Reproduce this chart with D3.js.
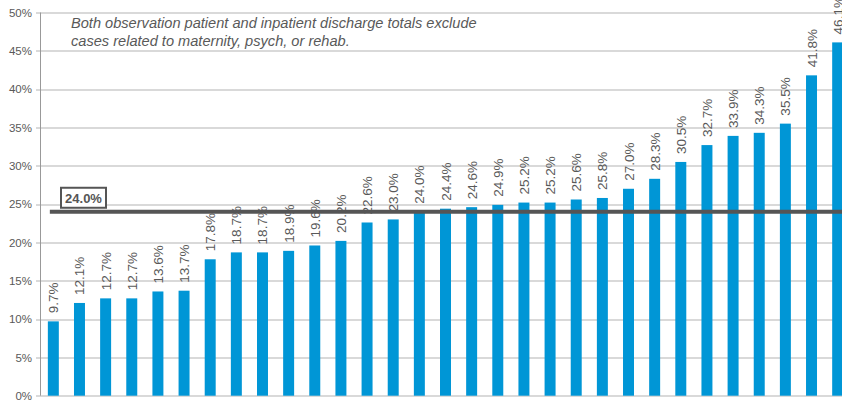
<!DOCTYPE html>
<html>
<head>
<meta charset="utf-8">
<script src="https://cdn.jsdelivr.net/npm/d3@7"></script>
<style>
  body { margin: 0; background: #fff; }
  svg { display: block; font-family: "Liberation Sans", Arial, sans-serif; }
</style>
</head>
<body>
<div class="chart"></div>
<script>
// values (share of discharges, %)
var values = [9.7, 12.1, 12.7, 12.7, 13.6, 13.7, 17.8, 18.7, 18.7, 18.9, 19.6, 20.2,
  22.6, 23.0, 24.0, 24.4, 24.6, 24.9, 25.2, 25.2, 25.6, 25.8, 27.0, 28.3, 30.5,
  32.7, 33.9, 34.3, 35.5, 41.8, 46.1];
var categories = values.map(function(d, i) { return "h" + (i + 1); });
var yTicks = [0, 5, 10, 15, 20, 25, 30, 35, 40, 45, 50];
var average = 24.0;
var note = ["Both observation patient and inpatient discharge totals exclude",
  "cases related to maternity, psych, or rehab."];

var svgWidth = 842;
var svgHeight = 402;

var margin = { top: 12.5, right: -9, bottom: 6.3, left: 40 };
var width = svgWidth - margin.left - margin.right;
var height = svgHeight - margin.top - margin.bottom;

var svg = d3.select(".chart")
  .append("svg")
  .attr("width", svgWidth)
  .attr("height", svgHeight);

var chartGroup = svg.append("g")
  .attr("transform", `translate(${margin.left}, ${margin.top})`);

var x = d3.scaleBand()
  .domain(categories)
  .range([0, width])
  .paddingInner(0.58)
  .paddingOuter(0.3);

var y = d3.scaleLinear()
  .domain([0, 50])
  .range([height, 0]);

// gridlines
chartGroup.append("g")
  .selectAll("line")
  .data(yTicks)
  .enter()
  .append("line")
  .attr("x1", -4)
  .attr("x2", width)
  .attr("y1", d => Math.round(y(d)) + 0.5)
  .attr("y2", d => Math.round(y(d)) + 0.5)
  .attr("stroke", "#b3b3b3")
  .attr("stroke-width", 1);

// y axis
var leftAxis = d3.axisLeft(y)
  .tickValues(yTicks)
  .tickFormat(d => d + "%")
  .tickSize(0)
  .tickPadding(8);

var yAxis = chartGroup.append("g").call(leftAxis);
yAxis.select(".domain").remove();
yAxis.selectAll("text")
  .attr("fill", "#595959")
  .style("font-size", "11.5px");

chartGroup.append("line")
  .attr("x1", 0.5).attr("x2", 0.5)
  .attr("y1", 0).attr("y2", height)
  .attr("stroke", "#999")
  .attr("stroke-width", 1);

// bars
chartGroup.selectAll(".bar")
  .data(values)
  .enter()
  .append("rect")
  .attr("class", "bar")
  .attr("x", (d, i) => x(categories[i]))
  .attr("y", d => y(d))
  .attr("width", x.bandwidth())
  .attr("height", d => height - y(d))
  .attr("fill", "#0096d6");

// bar labels, rotated
chartGroup.selectAll(".barLabel")
  .data(values)
  .enter()
  .append("text")
  .attr("class", "barLabel")
  .attr("transform", (d, i) =>
    `translate(${x(categories[i]) + x.bandwidth() / 2 + 5}, ${y(d) - 8}) rotate(-90)`)
  .attr("fill", "#595959")
  .style("font-size", "13.5px")
  .text(d => d.toFixed(1) + "%");

// average line
var avgY = y(average);
chartGroup.append("line")
  .attr("x1", x(categories[0]) + 2)
  .attr("x2", width)
  .attr("y1", avgY)
  .attr("y2", avgY)
  .attr("stroke", "#555")
  .attr("stroke-width", 4);

var avgLabel = chartGroup.append("g")
  .attr("transform", `translate(21, ${avgY - 24})`);

avgLabel.append("rect")
  .attr("width", 45)
  .attr("height", 20)
  .attr("fill", "#fff")
  .attr("stroke", "#555")
  .attr("stroke-width", 2);

avgLabel.append("text")
  .attr("x", 22.5)
  .attr("y", 15)
  .attr("text-anchor", "middle")
  .attr("fill", "#555")
  .style("font-size", "13px")
  .style("font-weight", "bold")
  .text(average.toFixed(1) + "%");

// note
chartGroup.append("text")
  .attr("x", 31)
  .attr("y", 15.5)
  .attr("fill", "#595959")
  .style("font-size", "14.6px")
  .style("font-style", "italic")
  .selectAll("tspan")
  .data(note)
  .enter()
  .append("tspan")
  .attr("x", 31)
  .attr("dy", (d, i) => i === 0 ? 0 : 18)
  .text(d => d);
</script>
</body>
</html>
